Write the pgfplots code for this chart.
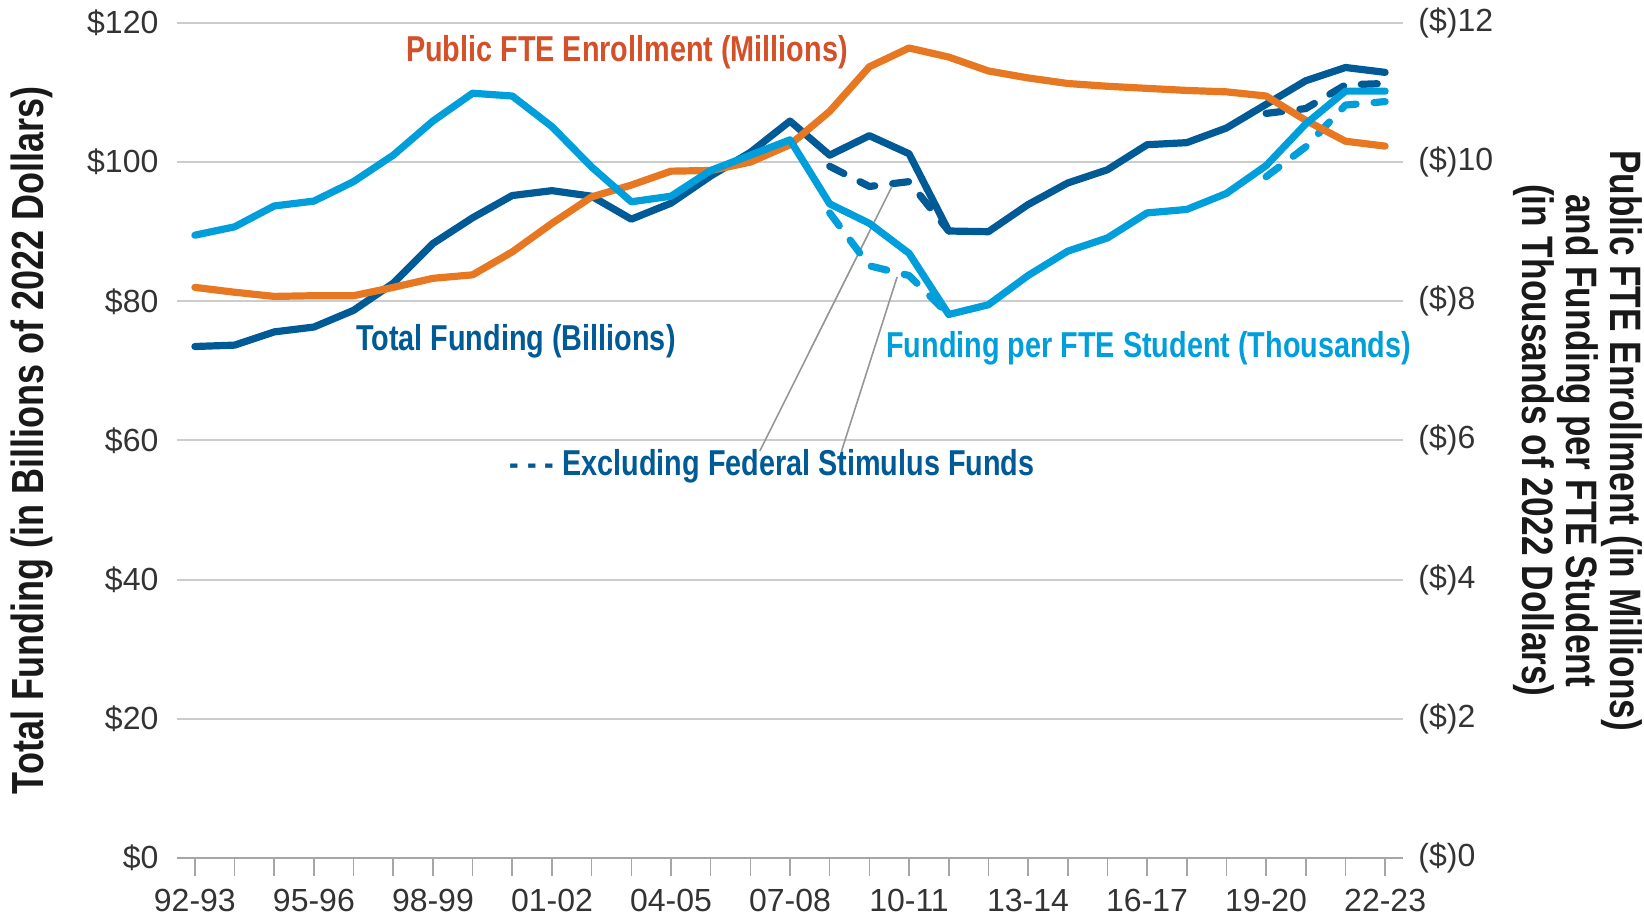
\documentclass[border=0pt]{standalone}
\usepackage{pgfplots}
\pgfplotsset{compat=1.18}
\usepackage{pgfplotstable}
\usepackage{fontspec}
\setmainfont{Liberation Sans}
\newfontfamily\condf[FakeStretch=0.80]{Liberation Sans}

\definecolor{darkblue}{RGB}{0,90,150}
\definecolor{lightblue}{RGB}{0,158,219}
\definecolor{enrorange}{RGB}{232,119,34}
\definecolor{enrtext}{RGB}{212,80,40}
\definecolor{leader}{RGB}{150,150,150}

% year index 0 = 92-93 ... 30 = 22-23
\pgfplotstableread{
i total enroll perfte
0  73.5  8.20  8.95
1  73.7  8.13  9.07
2  75.6  8.07  9.37
3  76.3  8.08  9.44
4  78.7  8.08  9.72
5  82.6  8.20  10.10
6  88.3  8.33  10.59
7  92.0  8.38  10.99
8  95.2  8.71  10.95
9  95.9  9.12  10.51
10 95.1  9.50  9.93
11 91.8  9.67  9.43
12 94.1  9.87  9.51
13 98.0  9.88  9.88
14 101.4 10.00 10.10
15 105.9 10.25 10.32
16 101.0 10.73 9.40
17 103.8 11.37 9.12
18 101.2 11.64 8.69
19 90.1  11.51 7.81
20 90.0  11.31 7.95
21 93.9  11.21 8.37
22 97.0  11.13 8.72
23 98.9  11.09 8.91
24 102.5 11.06 9.27
25 102.8 11.03 9.32
26 104.9 11.01 9.55
27 108.3 10.95 9.95
28 111.7 10.60 10.55
29 113.6 10.30 11.02
30 112.9 10.23 11.02
}\data

\begin{document}
\begin{tikzpicture}
\pgfplotsset{
  common/.style={
    scale only axis, width=613pt, height=417.5pt,
    xmin=-0.45, xmax=30.45,
    clip=false,
    tick label style={font=\fontsize{16}{16}\selectfont, text=black!80},
  },
  series/.style={line width=3.6pt, line cap=round, line join=round},
  dashed series/.style={series, dash pattern=on 8pt off 9pt},
}
\begin{axis}[
  common,
  ymin=0, ymax=120,
  axis x line*=bottom, axis y line*=left,
  y axis line style={draw=none},
  x axis line style={-, draw=black!35, line width=1.2pt},
  xtick={0,3,...,30},
  xticklabels={92-93,95-96,98-99,01-02,04-05,07-08,10-11,13-14,16-17,19-20,22-23},
  minor xtick={0,...,30},
  tick align=outside,
  major tick length=9pt, minor tick length=9pt,
  x tick style={draw=black!35, line width=0.8pt},
  xticklabel style={yshift=-3pt},
  ytick={0,20,...,120},
  yticklabels={\$0,\$20,\$40,\$60,\$80,\$100,\$120},
  y tick style={draw=none},
  yticklabel style={xshift=3.2pt},
  ymajorgrids, grid style={draw=black!20, line width=1pt},
]
\addplot[darkblue, dashed series] coordinates {(16,99.4) (17,96.5) (18,97.2) (19,90.1)};
\addplot[darkblue, dashed series] coordinates {(27,107.0) (28,107.7) (29,111.1) (30,111.3)};
\addplot[darkblue, series] table[x=i, y=total] {\data};

\draw[leader, line width=0.8pt] (axis cs:14.24,58.5) -- (axis cs:17.57,96.5);
\draw[leader, line width=0.8pt] (axis cs:16.30,58.5) -- (axis cs:17.70,83.5);

\node[font=\condf\bfseries\fontsize{18}{18}\selectfont, text=enrtext] at (axis cs:10.89,115.8) {Public FTE Enrollment (Millions)};
\node[font=\condf\bfseries\fontsize{18}{18}\selectfont, text=darkblue] at (axis cs:8.09,74.3) {Total Funding (Billions)};
\node[font=\condf\bfseries\fontsize{18}{18}\selectfont, text=lightblue] at (axis cs:24.04,73.3) {Funding per FTE Student (Thousands)};
\node[font=\condf\bfseries\fontsize{18}{18}\selectfont, text=darkblue] at (axis cs:14.55,56.3) {- - - Excluding Federal Stimulus Funds};

\node[rotate=90, font=\condf\bfseries\fontsize{22.5}{22}\selectfont, text=black!90] at (rel axis cs:-0.118,0.5) {Total Funding (in Billions of 2022 Dollars)};
\node[rotate=-90, align=center, font=\condf\bfseries\fontsize{22}{22}\selectfont, text=black!90] at (rel axis cs:1.1425,0.5)
  {Public FTE Enrollment (in Millions)\\and Funding per FTE Student\\(in Thousands of 2022 Dollars)};

\coordinate (bl) at (rel axis cs:-0.1444,-0.0695);
\coordinate (tr) at (rel axis cs:1.1966,1.0275);
\end{axis}

\begin{axis}[
  common,
  ymin=0, ymax=12,
  axis x line=none,
  axis y line*=right,
  y axis line style={draw=none},
  ytick={0,2,...,12},
  yticklabels={(\$)0,(\$)2,(\$)4,(\$)6,(\$)8,(\$)10,(\$)12},
  y tick style={draw=none},
  yticklabel style={xshift=4.2pt},
]
\addplot[lightblue, dashed series] coordinates {(16,9.27) (17,8.51) (18,8.37) (19,7.81)};
\addplot[lightblue, dashed series] coordinates {(27,9.79) (28,10.22) (29,10.82) (30,10.87)};
\addplot[enrorange, series] table[x=i, y=enroll] {\data};
\addplot[lightblue, series] table[x=i, y=perfte] {\data};
\end{axis}
\pgfresetboundingbox
\path[use as bounding box] (bl) rectangle (tr);
\end{tikzpicture}
\end{document}
